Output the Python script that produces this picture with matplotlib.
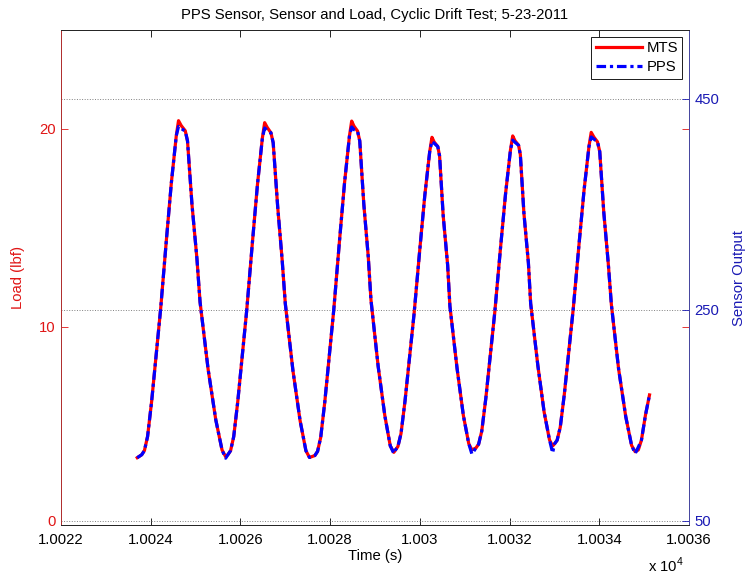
import numpy as np
import matplotlib.pyplot as plt
import matplotlib.transforms as mtransforms

plt.rcParams['font.family'] = ['Liberation Sans', 'DejaVu Sans']
plt.rcParams['mathtext.fontset'] = 'custom'
plt.rcParams['mathtext.rm'] = 'Liberation Sans'

# time axis (s), shared by both signals
mts_time = [
    10023.70,
    10023.80, 10023.86, 10023.93, 10024.02, 10024.22, 10024.35, 10024.46, 10024.57, 10024.62,
    10024.68, 10024.77, 10024.82, 10024.92, 10025.03, 10025.10, 10025.28, 10025.45, 10025.59, 10025.67,
    10025.72, 10025.78, 10025.85, 10025.94, 10026.14, 10026.27, 10026.38, 10026.49, 10026.54,
    10026.60, 10026.68, 10026.73, 10026.83, 10026.93, 10027.00, 10027.17, 10027.33, 10027.46, 10027.54,
    10027.66, 10027.72, 10027.79, 10027.88, 10028.08, 10028.21, 10028.32, 10028.43, 10028.48,
    10028.53, 10028.61, 10028.66, 10028.75, 10028.85, 10028.91, 10029.07, 10029.22, 10029.34, 10029.42,
    10029.45, 10029.51, 10029.58, 10029.67, 10029.87, 10030.00, 10030.11, 10030.22, 10030.27,
    10030.32, 10030.40, 10030.44, 10030.52, 10030.62, 10030.67, 10030.83, 10030.97, 10031.09, 10031.16,
    10031.25, 10031.31, 10031.38, 10031.47, 10031.67, 10031.80, 10031.91, 10032.02, 10032.07,
    10032.12, 10032.20, 10032.24, 10032.32, 10032.42, 10032.47, 10032.63, 10032.77, 10032.89, 10032.96,
    10033.00, 10033.06, 10033.13, 10033.22, 10033.42, 10033.55, 10033.66, 10033.77, 10033.82,
    10033.88, 10033.96, 10034.01, 10034.10, 10034.20, 10034.27, 10034.43, 10034.59, 10034.72, 10034.80,
    10034.87, 10034.94, 10035.03, 10035.12,
]

# MTS load cell (lbf)
mts_load = [
    3.40,
    3.55, 3.76, 4.47, 6.23, 10.88, 14.41, 17.28, 19.66, 20.42,
    20.17, 19.91, 19.40, 16.18, 13.46, 11.26, 7.86, 5.32, 3.79, 3.45,
    3.55, 3.75, 4.46, 6.22, 10.84, 14.35, 17.20, 19.56, 20.32,
    20.07, 19.81, 19.31, 16.09, 13.39, 11.19, 7.81, 5.27, 3.75, 3.41,
    3.51, 3.72, 4.43, 6.20, 10.85, 14.39, 17.26, 19.64, 20.40,
    20.15, 19.90, 19.40, 16.22, 13.54, 11.37, 8.02, 5.51, 4.00, 3.67,
    3.77, 3.96, 4.62, 6.28, 10.64, 13.95, 16.64, 18.86, 19.58,
    19.34, 19.11, 18.63, 15.63, 13.11, 11.05, 7.90, 5.53, 4.11, 3.79,
    3.89, 4.08, 4.74, 6.39, 10.74, 14.04, 16.72, 18.94, 19.65,
    19.41, 19.18, 18.71, 15.74, 13.23, 11.19, 8.06, 5.71, 4.30, 3.99,
    4.09, 4.28, 4.94, 6.59, 10.93, 14.22, 16.90, 19.12, 19.83,
    19.59, 19.35, 18.86, 15.80, 13.22, 11.12, 7.89, 5.47, 4.02, 3.70,
    3.79, 4.29, 5.56, 6.57,
]

# PPS sensor output (same sample times)
pps_time = mts_time
pps_output = [
    110.0,
    112.8, 116.8, 130.1, 163.1, 250.4, 316.6, 370.5, 415.2, 424.0,
    422.0, 419.5, 410.3, 349.9, 298.8, 257.5, 193.7, 146.0, 117.3, 109.5,
    112.8, 116.6, 129.9, 162.9, 249.6, 315.5, 369.0, 413.3, 422.5,
    420.0, 418.0, 408.6, 348.2, 297.5, 256.2, 192.8, 145.1, 116.6, 110.2,
    112.1, 116.0, 129.3, 162.6, 249.8, 316.3, 370.1, 414.8, 423.5,
    421.0, 419.7, 410.3, 350.6, 300.3, 259.6, 196.7, 149.6, 121.3, 114.0,
    117.0, 120.5, 132.9, 164.1, 245.9, 308.0, 358.5, 400.2, 410.0,
    408.0, 404.9, 395.9, 339.6, 292.3, 253.6, 194.5, 150.0, 123.3, 113.5,
    119.2, 122.8, 135.2, 166.1, 247.8, 309.7, 360.0, 401.7, 411.0,
    409.0, 406.2, 397.3, 341.6, 294.5, 256.2, 197.5, 153.4, 126.9, 114.5,
    123.0, 126.5, 138.9, 169.9, 251.3, 313.1, 363.4, 405.0, 414.0,
    412.0, 409.4, 400.2, 342.7, 294.3, 254.9, 194.3, 148.9, 121.7, 114.0,
    120.0, 126.7, 150.5, 169.5,
]

x_ticks = [10022, 10024, 10026, 10028, 10030, 10032, 10034, 10036]
x_tick_labels = ['1.0022', '1.0024', '1.0026', '1.0028', '1.003', '1.0032', '1.0034', '1.0036']
load_ticks = [0, 10, 20]
sensor_ticks = [50, 250, 450]

red = '#e01515'
blue = '#1a1ab4'
fs = 10.7

fig = plt.figure(figsize=(7.5, 5.76), dpi=100)
ax1 = fig.add_axes([61 / 750, 51 / 576, 628 / 750, 495 / 576])
ax2 = ax1.twinx()

l1, = ax1.plot(mts_time, mts_load, color='red', lw=2.3, label='MTS')
l2, = ax2.plot(pps_time, pps_output, color='blue', lw=2.3,
               ls=(0, (3, 1.2, 1, 1.2)), label='PPS')

ax1.set_xlim(10022, 10036)
ax1.set_ylim(0, 25)
ax2.set_ylim(46.2, 515.4)

ax1.set_xticks(x_ticks)
ax1.set_xticklabels(x_tick_labels)
ax1.set_yticks(load_ticks)
ax2.set_yticks(sensor_ticks)

ax1.tick_params(axis='x', direction='in', length=5, top=True, labelsize=fs, pad=6, width=0.6)
ax1.tick_params(axis='y', direction='in', length=5, right=True, labelright=False,
                colors=red, labelsize=fs, pad=4, width=0.6)
ax2.tick_params(axis='y', direction='in', length=5, colors=blue, labelsize=fs, pad=4, width=0.6)

# lift the lowest tick labels a little so they clear the time labels
lift = mtransforms.ScaledTranslation(0, 3 / 72, fig.dpi_scale_trans)
ylab0 = ax1.get_yticklabels()[0]
ylab0.set_transform(ylab0.get_transform() + lift)

ax2.yaxis.grid(True, linestyle=':', color='0.5', lw=0.7)

for ax in (ax1, ax2):
    ax.spines['top'].set_color('0.15')
    ax.spines['bottom'].set_color('0.15')
    for s in ax.spines.values():
        s.set_linewidth(0.7)
    ax.spines['left'].set_color('#b03030')
    ax.spines['right'].set_color('#4848a0')

ax1.set_title('PPS Sensor, Sensor and Load, Cyclic Drift Test; 5-23-2011', fontsize=fs, pad=8)
ax1.set_xlabel('Time (s)', fontsize=fs, labelpad=1)
ax1.set_ylabel('Load (lbf)', fontsize=fs, color=red, labelpad=10)
ax2.set_ylabel('Sensor Output', fontsize=fs, color=blue, labelpad=9)

fig.text(648 / 750, 1 - 565 / 576, 'x 10$^{\\mathrm{4}}$', fontsize=fs, va='center')

leg = ax2.legend(handles=[l1, l2], loc='upper right', fontsize=fs, handlelength=3.1,
                 handletextpad=0.3, borderpad=0.3, labelspacing=0.35,
                 borderaxespad=0.45, fancybox=False, framealpha=1)
leg.get_frame().set_edgecolor('0.1')
leg.get_frame().set_linewidth(0.7)

fig.savefig('out.png', dpi=100)
